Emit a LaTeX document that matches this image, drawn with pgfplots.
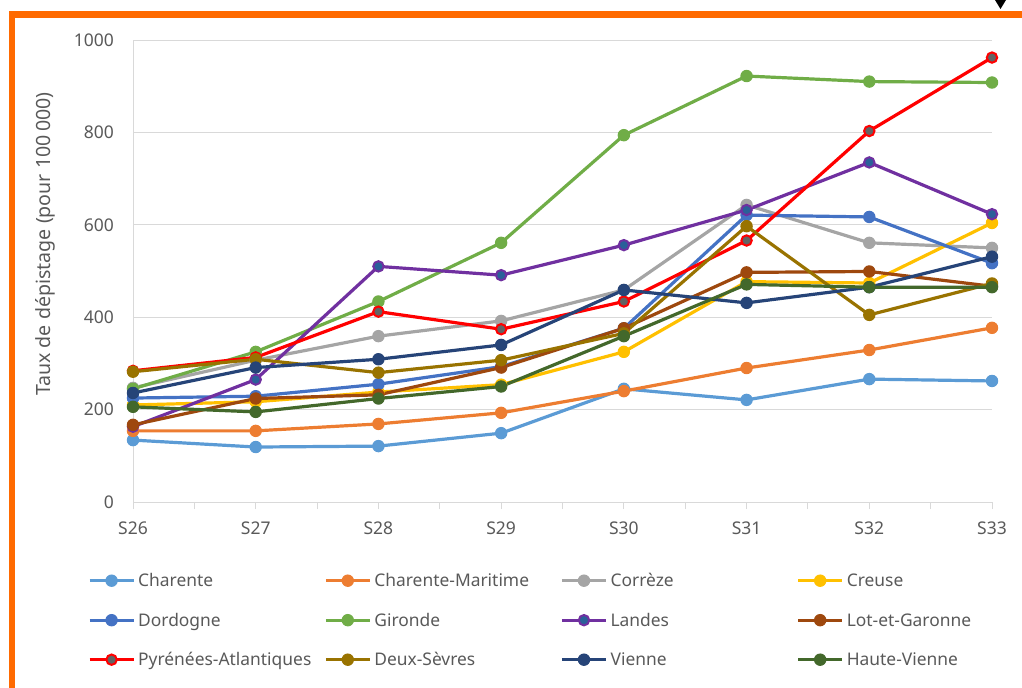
\documentclass[border=0pt]{standalone}
\usepackage{fontspec}
\setmainfont{Noto Sans}
\usepackage{pgfplots}
\pgfplotsset{compat=1.18}

\definecolor{frameorange}{HTML}{FF6A00}
\definecolor{labelgray}{HTML}{595959}
\definecolor{gridgray}{HTML}{D9D9D9}
\definecolor{cCharente}{HTML}{5B9BD5}
\definecolor{cCharMar}{HTML}{ED7D31}
\definecolor{cCorreze}{HTML}{A5A5A5}
\definecolor{cCreuse}{HTML}{FFC000}
\definecolor{cDordogne}{HTML}{4472C4}
\definecolor{cGironde}{HTML}{70AD47}
\definecolor{cLandes}{HTML}{7030A0}
\definecolor{cLandesFill}{HTML}{2A6099}
\definecolor{cLotGar}{HTML}{9E480E}
\definecolor{cPyr}{HTML}{FF0000}
\definecolor{cPyrFill}{HTML}{636363}
\definecolor{cDeuxSev}{HTML}{997300}
\definecolor{cVienne}{HTML}{264478}
\definecolor{cHauteV}{HTML}{43682B}

\begin{document}
\begin{tikzpicture}[font=\fontsize{17.4bp}{21bp}\selectfont]
\path[use as bounding box] (0,0) rectangle (1022bp,-688bp);
% frame
\draw[line width=6.4bp, frameorange, line join=miter]
  (11.7bp,-700bp) -- (11.7bp,-14.5bp) -- (1030bp,-14.5bp);
\fill[black] (995bp,0bp) -- (1006bp,0bp) -- (1000.5bp,-9bp) -- cycle;

\begin{axis}[
  at={(133bp,-502bp)}, anchor=south west,
  scale only axis, width=859bp, height=462bp,
  xmin=0, xmax=7, ymin=0, ymax=1000,
  clip=false,
  axis x line*=bottom, axis y line*=left,
  axis line style={draw=gridgray, line width=1bp, -},
  xtick={0,...,7},
  xticklabels={S26,S27,S28,S29,S30,S31,S32,S33},
  minor xtick={0.5,1.5,2.5,3.5,4.5,5.5,6.5},
  tick align=outside,
  major tick length=7bp, minor tick length=7bp,
  xtick style={draw=gridgray, line width=1bp},
  minor x tick style={draw=gridgray, line width=1bp},
  ytick={0,200,400,600,800,1000},
  yticklabels={0,200,400,600,800,1000},
  ytick style={draw=none},
  ymajorgrids,
  grid style={gridgray, line width=1bp},
  yticklabel style={anchor=east, inner sep=0pt, xshift=-12bp, text=labelgray,
      font=\fontsize{17.5bp}{21bp}\selectfont},
  xticklabel style={anchor=north, inner sep=0pt, yshift=-13bp, text=labelgray,
      font=\fontsize{17.5bp}{21bp}\selectfont},
  ylabel={Taux de dépistage (pour 100\,000)},
  every axis y label/.style={at={(rel axis cs:-0.1024,0.558)}, rotate=90,
      anchor=center, text=labelgray, font=\fontsize{19.6bp}{23bp}\selectfont},
  every axis plot/.append style={line width=3.2bp, mark=*, mark size=5.7bp,
      mark options={solid, line width=1bp}},
  legend columns=4,
  legend image code/.code={%
    \draw[#1, mark repeat=2, mark phase=2]
      plot coordinates {(0bp,6.3bp) (22bp,6.3bp) (44bp,6.3bp)};},
  legend style={at={(-0.0524,-0.1558)}, anchor=north west,
    draw=none, fill=none, inner sep=0pt, outer sep=0pt,
    cells={anchor=base west},
    nodes={inner sep=0pt, text height=13bp, text depth=4bp,
           text width=183bp, align=left, text=labelgray},
    /tikz/every even column/.style={column sep=3bp},
    /tikz/every odd column/.style={column sep=3bp},
    /tikz/row sep=22.5bp},
]
\addplot[color=cCharente] coordinates {(0,134)(1,119)(2,121)(3,149)(4,245)(5,221)(6,266)(7,262)};
\addlegendentry{Charente}
\addplot[color=cCharMar] coordinates {(0,154)(1,154)(2,169)(3,193)(4,240)(5,290)(6,329)(7,377)};
\addlegendentry{Charente-Maritime}
\addplot[color=cCorreze] coordinates {(0,247)(1,307)(2,359)(3,392)(4,459)(5,643)(6,561)(7,550)};
\addlegendentry{Corrèze}
\addplot[color=cCreuse] coordinates {(0,210)(1,217)(2,238)(3,254)(4,325)(5,477)(6,474)(7,604)};
\addlegendentry{Creuse}
\addplot[color=cDordogne] coordinates {(0,225)(1,229)(2,255)(3,293)(4,376)(5,621)(6,617)(7,517)};
\addlegendentry{Dordogne}
\addplot[color=cGironde] coordinates {(0,245)(1,325)(2,434)(3,561)(4,794)(5,922)(6,910)(7,908)};
\addlegendentry{Gironde}
\addplot[color=cLandes, mark options={fill=cLandesFill, draw=cLandes, line width=2bp}, mark size=5.2bp]
  coordinates {(0,163)(1,265)(2,510)(3,491)(4,556)(5,632)(6,735)(7,623)};
\addlegendentry{Landes}
\addplot[color=cLotGar] coordinates {(0,167)(1,224)(2,232)(3,291)(4,376)(5,497)(6,499)(7,467)};
\addlegendentry{Lot-et-Garonne}
\addplot[color=cPyr, mark options={fill=cPyrFill, draw=cPyr, line width=2bp}, mark size=5.2bp]
  coordinates {(0,284)(1,313)(2,412)(3,374)(4,434)(5,566)(6,803)(7,962)};
\addlegendentry{Pyrénées-Atlantiques}
\addplot[color=cDeuxSev] coordinates {(0,282)(1,309)(2,280)(3,307)(4,365)(5,597)(6,405)(7,473)};
\addlegendentry{Deux-Sèvres}
\addplot[color=cVienne] coordinates {(0,236)(1,291)(2,309)(3,340)(4,459)(5,431)(6,465)(7,531)};
\addlegendentry{Vienne}
\addplot[color=cHauteV] coordinates {(0,206)(1,195)(2,224)(3,250)(4,359)(5,471)(6,465)(7,465)};
\addlegendentry{Haute-Vienne}
\end{axis}
\end{tikzpicture}
\end{document}
